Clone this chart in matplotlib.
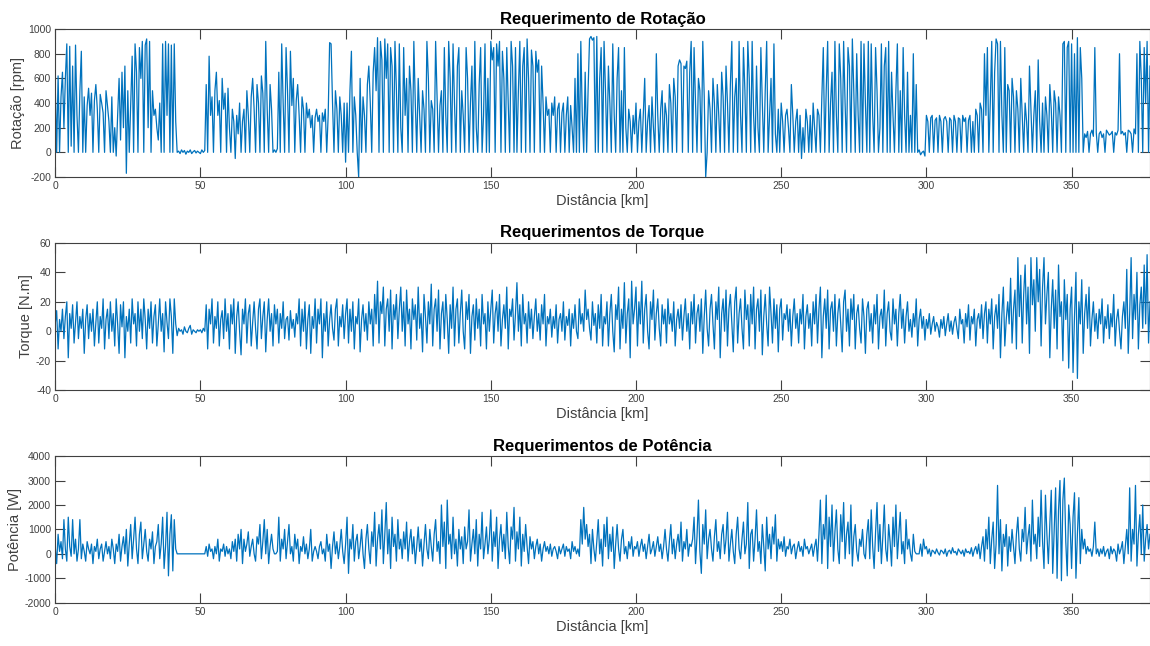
import numpy as np
import matplotlib
matplotlib.use("Agg")
import matplotlib.pyplot as plt

plt.rcParams['font.family'] = ['Liberation Sans', 'DejaVu Sans']
plt.rcParams['axes.unicode_minus'] = False

# sample spacing of the traces [km]
step_km = 0.5

rotacao = [
    550, 0, 620, 0, 450, 650, 200, 600, 880, 0, 860, 50, 700, 0, 870, 300, 0, 500, 820, 0,
    450, 0, 380, 520, 300, 480, 0, 420, 550, 350, 0, 470, 400, 320, 0, 500, 380, 250, 0, 450,
    0, 200, -30, 300, 600, 100, 650, 200, 700, -170, 500, 0, 400, 780, 0, 880, 650, 0, 850, 600,
    900, 0, 870, 920, 200, 900, 0, 500, 300, 350, 200, 100, 400, 0, 880, 0, 900, 300, 880, 0,
    870, 0, 880, 250, 0, 10, -10, 20, 0, 15, -15, 10, 0, 20, -10, 5, 15, -5, 10, 0,
    -10, 20, 0, 15, 550, 0, 780, 300, 450, 0, 500, 650, 300, 420, 0, 600, 350, 480, 0, 520,
    200, 0, 350, 250, -50, 300, 150, 400, 0, 250, 350, 0, 500, 300, 0, 450, 600, 350, 0, 550,
    400, 0, 620, 480, 0, 900, 350, 0, 550, 350, 0, 20, 0, 30, 650, 0, 880, 400, 0, 850,
    500, 0, 820, 380, 600, 0, 420, 550, 300, 0, 450, 350, 0, 400, 280, 350, 200, 300, 0, 280,
    350, 250, 300, 0, 320, 250, 350, 0, 300, 890, 880, 400, 0, 500, 350, 0, 450, 300, 0, 400,
    -80, 400, 0, 500, 820, 0, 450, 300, 0, -200, 600, 0, 450, 300, 0, 550, 700, 400, 0, 650,
    850, 500, 930, 0, 900, 750, 0, 920, 600, 880, 0, 850, 700, 0, 900, 500, 0, 880, 200, 0,
    850, 300, 600, 0, 700, 500, 0, 900, 400, 0, 600, 300, 0, 500, 350, 0, 900, 600, 0, 420,
    350, 0, 900, 450, 0, 380, 500, 0, 850, 300, 0, 900, 600, 0, 880, 400, 0, 700, 850, 0,
    500, 300, 0, 850, 600, 0, 400, 700, 0, 900, 200, 0, 550, 850, 0, 300, 880, 0, 600, 0,
    900, 750, 850, 0, 880, 700, 900, 0, 820, 600, 0, 850, 400, 0, 900, 700, 0, 850, 0, 500,
    900, 0, 700, 850, 0, 920, 600, 0, 830, 700, 0, 820, 650, 750, 0, 700, 400, 0, 450, 300,
    350, 0, 400, 300, 450, 0, 350, 400, 0, 320, 400, 0, 300, 450, 0, 380, 200, 0, 600, 0,
    800, 0, 900, 300, 0, 650, 0, 500, 920, 940, 910, 930, 0, 940, 0, 600, 850, 0, 900, 500,
    0, 700, 400, 0, 880, 300, 0, 600, 850, 0, 500, 0, 850, 200, 0, 350, 250, 0, 300, 150,
    400, 0, 250, 350, 0, 300, 600, 0, 250, 380, 0, 450, 200, 0, 800, 300, 0, 350, 500, 0,
    400, 300, 0, 550, 400, 0, 600, 450, 0, 700, 750, 720, 0, 700, 680, 740, 0, 650, 900, 0,
    850, 400, 0, 600, 500, 0, 900, 450, -200, 0, 500, 350, 0, 600, 400, 0, 550, 300, 0, 650,
    450, 0, 700, 400, 0, 550, 900, 0, 450, 600, 0, 900, 300, 0, 850, 500, 0, 900, 600, 0,
    900, 300, 0, 700, 200, 0, 850, 400, 0, 500, 900, 0, 300, 600, 0, 880, 150, 0, 350, 0,
    400, 250, 0, 300, 350, 200, 0, 550, 300, 0, 250, 350, 0, 300, -50, 200, 0, 350, 250, 0,
    300, 0, 400, 200, 0, 350, 300, 0, 450, 850, 0, 500, 900, 0, 400, 650, 0, 900, 300, 0,
    880, 600, 0, 900, 400, 0, 850, 700, 0, 920, 500, 0, 800, 300, 0, 900, 0, 880, 400, 0,
    900, 0, 880, 300, 0, 850, 500, 0, 200, 880, 0, 700, 850, 0, 900, 0, 650, 300, 0, 500,
    880, 0, 500, 0, 850, 300, 0, 650, 0, 300, 0, 800, 0, 550, 0, 20, -20, 0, 10, -30,
    300, 250, 0, 280, 300, 0, 260, 280, 0, 300, 250, 0, 270, 290, 250, 0, 280, 260, 0, 300,
    250, 0, 280, 270, 0, 300, 250, 280, 0, 260, 300, 0, 250, 0, 350, 300, 0, 400, 350, 0,
    800, 300, 850, 0, 400, 900, 0, 650, 920, 880, 0, 900, 300, 0, 850, 0, 550, 500, 0, 600,
    450, 0, 500, 350, 0, 600, 300, 0, 400, 250, 0, 700, 350, 0, 300, 500, 0, 750, 250, 0,
    400, 0, 450, 300, 0, 550, 350, 0, 500, 400, 0, 450, 300, 0, 880, 900, 0, 850, 900, 0,
    880, 0, 800, 0, 930, 0, 850, 600, 0, 150, 120, 170, 0, 150, 180, 130, 850, 160, 0, 150,
    170, 120, 150, 0, 180, 160, 140, 150, 170, 0, 160, 140, 180, 800, 150, 170, 140, 160, 0, 180,
    170, 150, 0, 190, 150, 800, 0, 900, 600, 0, 850, 400, 900, 0, 700,
]

torque = [
    5, 14, -12, 8, 0, 15, -5, 10, 20, -18, 12, 2, 18, -8, 6, 20, -5, 10, 2, 15,
    -15, 8, 18, -5, 12, 0, 15, -10, 6, 20, -8, 10, 2, 22, -12, 8, 15, -5, 20, 0,
    12, -10, 22, 5, -15, 18, 3, 20, -18, 10, 0, 15, -8, 22, 5, 12, -10, 20, 0, 15,
    -5, 22, 8, -12, 15, 2, 20, -8, 10, 18, -10, 5, 22, 0, 12, -14, 20, 6, -5, 22,
    10, -15, 22, 5, -3, 2, 0, 1, -2, 3, 0, -1, 2, 4, -2, 1, 0, -1, 1, 0,
    1, -1, 2, 0, 18, -12, 15, 5, 22, -8, 10, 2, 20, -10, 8, 14, -5, 22, 0, 12,
    -12, 18, 5, 22, -15, 10, 20, 0, -16, 15, 5, 22, -8, 12, 18, -10, 6, 20, 2, -12,
    15, 22, -5, 10, 20, -14, 8, 22, 0, 12, -10, 18, 5, 15, -8, 12, 2, 20, -5, 8,
    10, -6, 14, 2, 8, -4, 12, 5, 22, -10, 15, 0, 20, -12, 8, 18, -15, 10, 2, 22,
    -8, 15, 5, 22, -18, 12, 0, 20, -10, 8, 18, 2, -6, 15, 22, -10, 10, 3, 18, -5,
    12, 22, -8, 15, 0, 20, -12, 10, 5, 22, -14, 8, 18, 0, 12, -6, 20, 5, 15, -10,
    25, 5, 34, -8, 20, 12, 30, -10, 15, 22, 0, 28, -12, 18, 8, 25, -5, 15, 30, 0,
    20, -10, 28, 5, 15, -12, 22, 8, 18, -6, 30, 2, 12, -14, 25, 10, -8, 20, 5, 32,
    -10, 15, 22, 0, 28, -12, 12, 20, -5, 25, 8, -15, 18, 2, 30, -10, 15, 22, -8, 12,
    28, 0, -12, 20, 8, 25, -15, 10, 18, -6, 22, 2, 15, -10, 25, 5, 12, -12, 20, 0,
    15, 28, -8, 12, 20, 0, 25, -10, 8, 18, 2, 30, -12, 15, 10, 22, -6, 12, 33, 0,
    18, -10, 25, 5, 12, -8, 20, 2, 15, -5, 10, 22, 0, 12, -6, 18, 5, 25, -10, 10,
    5, 15, -4, 10, 2, 18, -8, 8, 12, 0, 20, -6, 10, 4, 15, -10, 12, 2, 18, 0,
    -5, 22, 5, 12, 0, 28, 8, 15, 2, -6, 20, 4, 12, -8, 18, 2, 25, -10, 10, 5,
    20, -10, 12, 25, 0, -14, 18, 8, 30, -12, 15, 2, 33, -8, 12, 22, -18, 34, 5, 15,
    30, -10, 20, 5, 34, -8, 15, 25, 0, -12, 20, 8, 28, -6, 12, 22, 2, -10, 18, 5,
    15, -8, 22, 5, 12, 0, 20, -10, 8, 15, 2, 18, -6, 10, 22, 0, 12, -12, 20, 5,
    25, -8, 12, 18, 0, 22, -15, 10, 28, 2, -10, 15, 25, 5, -12, 20, 8, 30, -18, 12,
    22, 0, 28, -10, 15, 25, 5, -14, 20, 30, -8, 12, 22, 2, -12, 28, 8, 18, -10, 25,
    5, 30, -12, 15, 22, 0, 28, -16, 10, 25, 5, -10, 30, 12, -8, 22, 2, 18, -14, 15,
    22, -6, 12, 8, 18, 0, 15, -10, 10, 22, 2, 12, -8, 15, 5, 25, -12, 10, 18, 2,
    12, -10, 20, 5, 25, -8, 15, 30, -18, 10, 22, 2, 28, -12, 15, 20, 0, 25, -10, 12,
    22, 5, -14, 20, 28, 0, 15, -10, 22, 8, 25, -12, 12, 18, 2, -8, 22, 10, -15, 15,
    20, 0, 12, -8, 18, 5, 25, -12, 10, 15, 2, 28, -10, 12, 20, 0, -6, 22, 5, 15,
    -10, 12, 25, 2, 15, -8, 10, 20, 0, 8, -4, 12, 3, 22, -10, 8, 15, 2, 10, -6,
    8, 2, 12, -2, 5, 10, 0, 6, 3, -4, 8, 2, 10, -3, 5, 12, 0, 7, -2, 6,
    10, 2, -5, 15, 5, 8, -8, 12, 3, 18, -6, 10, 5, 15, -10, 8, 12, 2, 18, -5,
    12, 20, -8, 15, 5, 22, -12, 10, 18, 2, 25, -18, 12, 30, -10, 8, 20, 5, 36, -8,
    15, 28, -12, 50, 10, 38, -8, 25, 45, 5, 30, -15, 50, 18, 35, 0, 50, 20, 42, -10,
    30, 50, 5, 25, 40, -18, 15, 35, 2, 28, -12, 45, 10, 20, -20, 35, 8, 25, -25, 15,
    30, -28, 10, 40, -32, 20, 5, 35, -15, 12, 25, 2, 30, -10, 8, 20, 0, 12, -5, 15,
    5, 22, -8, 10, 2, 18, -5, 12, 3, 25, -10, 8, 15, 0, -12, 10, 20, 2, 42, -15,
    12, 50, -5, 25, 8, 40, -12, 18, 30, 2, 45, 5, 52, -8, 20,
]

potencia = [
    300, -400, 800, 100, 500, -200, 1400, 200, -300, 1500, 300, -100, 1400, 0, 600, -300, 200, 1400, -200, 400,
    100, -300, 500, 200, 0, 400, -400, 300, 100, 600, -200, 200, 400, -300, 100, 500, 0, 300, -200, 600,
    200, -400, 400, 100, 800, -300, 300, 700, 0, 1000, -500, 400, 1200, -200, 600, 1500, 200, -400, 800, 1300,
    -200, 400, 1000, 100, -300, 600, 200, 900, -400, 300, 500, 1200, -200, 400, 1500, -600, 300, 1700, -900, 800,
    1600, -700, 1400, 200, 0, 0, 0, 0, 0, 0, 0, 0, 0, 0, 0, 0, 0, 0, 0, 0,
    0, 0, 0, 0, 300, -100, 400, 100, 200, -200, 300, 0, 600, -300, 200, 100, 400, -100, 300, 0,
    200, -200, 500, 100, 600, -300, 800, 200, 1000, -400, 600, 100, 400, 900, -100, 300, 600, 0, -300, 700,
    400, 1200, -200, 500, 1400, 0, 1000, -400, 300, 800, 200, 0, 0, 100, 1500, -300, 600, 200, 1000, -200,
    500, 1200, 0, 300, -300, 800, 200, 600, -400, 300, 100, 700, 0, 400, -200, 200, 1000, -300, 100, 300,
    100, -200, 300, 500, 0, 200, -300, 800, 100, 400, -600, 300, 900, 0, 500, -200, 300, 1000, 100, -400,
    400, 1500, -800, 600, 200, 1200, -300, 500, 800, -200, 300, 1000, 0, -600, 600, 1200, 200, -400, 900, 300,
    1700, -500, 600, 1200, 200, 1800, -400, 800, 2100, 0, 1000, -600, 1500, 300, 800, -300, 1400, 200, 600, -200,
    900, 200, 1300, -300, 500, 1000, 0, 700, -400, 300, 1100, 100, 600, -500, 400, 1200, 200, -200, 1000, 300,
    -300, 800, 1400, 100, 500, -400, 2000, 300, 1300, -600, 2200, 400, 800, -200, 1500, 0, 600, -500, 1000, 200,
    700, -400, 1100, 200, 500, 1800, -300, 400, 1000, 0, 1400, -500, 800, 200, 1700, -200, 400, 1100, 0, 600,
    1800, -300, 900, 300, 1500, -600, 600, 1200, 100, 800, -200, 1700, 300, -400, 1100, 600, 1900, -300, 900, 200,
    1500, -500, 800, 100, 1200, 300, -400, 700, 200, 500, -200, 300, 600, 0, 400, -300, 200, 500, 100, 300,
    0, 400, -100, 200, 300, 100, -200, 300, 0, 200, 400, -100, 300, 100, 200, -200, 500, 100, 300, 0,
    200, -100, 1400, 400, 1900, 600, 1200, 300, 800, -400, 1000, 200, -300, 500, 1400, 0, 600, -500, 1200, 300,
    1500, -200, 800, 100, 1100, -600, 400, 1200, 200, -300, 600, 1000, 0, 300, -200, 500, 200, 700, -100, 300,
    200, 500, -100, 300, 600, 100, 400, -200, 300, 800, 0, 200, 500, -100, 300, 700, 100, 400, -200, 300,
    1000, 200, -300, 500, 1200, 0, 600, -200, 400, 800, 100, 1300, -300, 500, 200, 1000, -100, 400, 300, 600,
    1500, -400, 700, 2200, 100, -800, 1200, 400, 1800, -200, 600, 1000, 200, -300, 700, 1400, 100, 500, -200, 800,
    1200, 0, 600, 1700, -300, 400, 1000, 100, -400, 800, 1500, 200, -200, 600, 1300, 0, 400, 2100, -600, 800,
    1000, -300, 600, 1800, 100, 500, -400, 1200, 300, -700, 1500, 200, 800, -200, 1100, 400, 1600, -300, 600, 200,
    500, 100, 700, -100, 300, 200, 600, 0, 300, 400, -200, 200, 500, 100, 300, -100, 600, 200, 300, 0,
    200, 400, -100, 300, 600, -300, 800, 2200, -400, 1200, 600, 2400, -600, 1500, 300, 2000, -300, 900, 1800, 200,
    -400, 1600, 500, 2100, -200, 800, 1300, 0, 2000, -500, 700, 1200, 100, -300, 600, 300, 1000, 0, -200, 800,
    1400, -200, 1800, 300, -600, 900, 2100, 100, 1200, -400, 700, 2000, 200, -300, 1200, 500, -500, 1500, 300, 2000,
    -200, 800, 1700, 0, 500, -400, 1400, 200, 600, 0, -300, 800, 100, 0, 0, 0, 400, -100, 600, 200,
    300, 0, 200, -100, 150, 100, 0, 200, 50, -50, 150, 100, 0, 200, -100, 100, 150, 0, 250, 50,
    100, -50, 200, 100, 0, 150, -100, 200, 50, 100, 0, 250, -100, 150, 300, 0, 400, -200, 300, 700,
    -300, 1000, 200, 1500, -400, 600, 1300, -600, 400, 2800, 0, 1400, -700, 800, 300, 1200, -500, 700, 100, 1000,
    300, -400, 800, 1500, 200, -300, 1000, 500, 1900, 0, 700, 1200, -300, 2200, 400, 800, -200, 1500, 300, 2600,
    500, -600, 2400, 800, -400, 1200, 2600, -800, 1000, 2700, -1000, 1800, 3000, -1100, 2200, 3100, 500, -900, 2000, 1200,
    -600, 1500, 2500, -1000, 800, 2300, -400, 1000, 200, 600, 0, 300, 100, 200, -100, 300, 1300, 0, 200, -100,
    200, 0, 300, -100, 100, 200, -200, 300, 0, 200, 100, -300, 400, 0, 200, 500, -400, 300, 1000, 0,
    2700, -300, 1000, 400, 2800, -500, 800, 1600, 0, 2000, -300, 600, 1200, 200, 800,
]

titles = ['Requerimento de Rotação', 'Requerimentos de Torque', 'Requerimentos de Potência']
ylabels = ['Rotação [rpm]', 'Torque [N.m]', 'Potência [W]']
yticks = [np.arange(-200, 1001, 200), np.arange(-40, 61, 20), np.arange(-2000, 4001, 1000)]
xticks = np.arange(0, 351, 50)

fig = plt.figure(figsize=(11.5, 6.46), dpi=100)
boxes = [[0.048, 0.726, 0.952, 0.229],
         [0.048, 0.396, 0.952, 0.228],
         [0.048, 0.067, 0.952, 0.227]]

for series, title, ylab, yt, box in zip([rotacao, torque, potencia], titles, ylabels, yticks, boxes):
    ax = fig.add_axes(box)
    dist = np.arange(len(series)) * step_km
    ax.plot(dist, series, color='#0072BD', lw=0.9)
    ax.set_xlim(0, 377)
    ax.set_ylim(yt[0], yt[-1])
    ax.set_xticks(xticks)
    ax.set_yticks(yt)
    ax.tick_params(direction='in', length=7, width=0.8, top=True, right=True,
                   labelsize=7.5, colors='#404040', pad=3)
    for sp in ax.spines.values():
        sp.set_color('#404040')
        sp.set_linewidth(0.8)
    ax.set_title(title, fontsize=12, fontweight='bold', pad=4)
    ax.set_xlabel('Distância [km]', fontsize=10.5, color='#404040', labelpad=2)
    ax.set_ylabel(ylab, fontsize=10.5, color='#404040', labelpad=2)

fig.savefig('out.png', dpi=100)
